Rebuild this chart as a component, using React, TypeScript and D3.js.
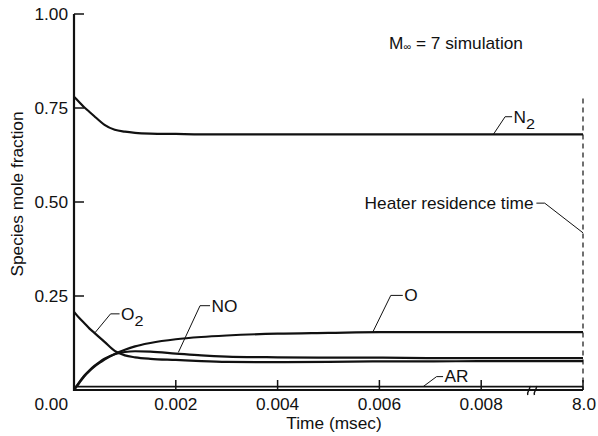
import * as d3 from "d3";
import React from "react";

// time in msec (last point stands for the heater residence time, 8.0 msec)
const times = [0, 0.0001, 0.0002, 0.0003, 0.0004, 0.0005, 0.0006, 0.0008, 0.001, 0.0012, 0.0015,
    0.002, 0.0025, 0.003, 0.004, 0.005, 0.006, 0.007, 0.008, 0.009, 0.01];

const n2 = [0.78, 0.766, 0.752, 0.74, 0.728, 0.716, 0.705, 0.692, 0.687, 0.684, 0.682,
    0.681, 0.68, 0.68, 0.68, 0.68, 0.68, 0.68, 0.68, 0.68, 0.68];
const o2 = [0.208, 0.192, 0.178, 0.164, 0.152, 0.14, 0.128, 0.104, 0.092, 0.087, 0.083,
    0.08, 0.077, 0.075, 0.074, 0.075, 0.076, 0.076, 0.077, 0.077, 0.077];
const no = [0, 0.02, 0.038, 0.052, 0.064, 0.074, 0.083, 0.095, 0.101, 0.103, 0.102,
    0.097, 0.092, 0.089, 0.087, 0.086, 0.086, 0.085, 0.085, 0.085, 0.085];
const o = [0, 0.018, 0.036, 0.05, 0.062, 0.072, 0.081, 0.096, 0.107, 0.116, 0.125,
    0.135, 0.141, 0.145, 0.15, 0.152, 0.154, 0.154, 0.154, 0.154, 0.154];
const ar = [0.009, 0.009, 0.009, 0.009, 0.009, 0.009, 0.009, 0.009, 0.009, 0.009, 0.009,
    0.009, 0.009, 0.009, 0.009, 0.009, 0.009, 0.009, 0.009, 0.009, 0.009];

const yTicks = [0.25, 0.5, 0.75, 1.0];
const yTickLabels = ["0.25", "0.50", "0.75", "1.00"];
const xTicks = [0.002, 0.004, 0.006, 0.008, 0.01];
const xTickLabels = ["0.002", "0.004", "0.006", "0.008", "8.0"];

const series = [
    { name: "N2", values: n2 },
    { name: "O2", values: o2 },
    { name: "NO", values: no },
    { name: "O", values: o },
    { name: "AR", values: ar },
];

// leader labels: anchor on the curve (t, v), elbow offset, short horizontal run
const labels = [
    { text: "N", sub: "2", t: 0.00824, v: 0.68, dx: 11.7, dy: -17.6, h: 7 },
    { text: "O", sub: "2", t: 0.00041, v: 0.152, dx: 15.7, dy: -19, h: 9 },
    { text: "NO", sub: "", t: 0.00205, v: 0.1, dx: 21.7, dy: -46.7, h: 10 },
    { text: "O", sub: "", t: 0.00587, v: 0.154, dx: 18, dy: -36.7, h: 12 },
    { text: "AR", sub: "", t: 0.00686, v: 0.009, dx: 13.4, dy: -10, h: 6.5 },
];

const width = 598;
const height = 436;
const SX = 1.08;
const font = "'Liberation Sans', Arial, sans-serif";

function Txt({ x, y, anchor = "start", size = 16, children }: any) {
    return (
        <text
            transform={`translate(${x},${y}) scale(${SX},1)`}
            textAnchor={anchor}
            fontSize={size}
            fontFamily={font}
            fill="#111"
        >
            {children}
        </text>
    );
}

export default function App() {
    const xScale = d3.scaleLinear().domain([0, 0.01]).range([74, 583]);
    const yScale = d3.scaleLinear().domain([0, 1]).range([390, 14]);

    const line = d3.line<number>()
        .x((d, i) => xScale(times[i]))
        .y((d) => yScale(d))
        .curve(d3.curveMonotoneX);

    const x0 = xScale(0);
    const y0 = yScale(0);
    const xEnd = xScale(0.01);
    const breakX = xScale(0.009);

    // heater residence time leader
    const hx = xScale(0.01);
    const hy = yScale(0.418);

    return (
        <svg width={width} height={height} style={{ position: "absolute", left: 0, top: 0 }}>
            <rect width={width} height={height} fill="white" />

            {series.map((s) => (
                <path key={s.name} d={line(s.values) || undefined} fill="none" stroke="#111"
                    strokeWidth={s.name === "AR" ? 1.7 : 2.2} />
            ))}

            {/* residence time dashed line */}
            <line x1={xEnd} x2={xEnd} y1={yScale(0.775)} y2={y0} stroke="#111" strokeWidth={1.2} strokeDasharray="5,4" />

            {/* axes */}
            <line x1={x0} x2={x0} y1={yScale(1)} y2={y0 + 1} stroke="#111" strokeWidth={2.2} />
            <line x1={x0 - 1} x2={xEnd} y1={y0} y2={y0} stroke="#111" strokeWidth={2.2} />
            {yTicks.map((v, i) => (
                <g key={v}>
                    <line x1={x0} x2={x0 + 10} y1={yScale(v)} y2={yScale(v)} stroke="#111" strokeWidth={1.5} />
                    <Txt x={68} y={yScale(v) + 5.8} anchor="end">{yTickLabels[i]}</Txt>
                </g>
            ))}
            <Txt x={68} y={410} anchor="end">0.00</Txt>
            {xTicks.map((t, i) => (
                <g key={t}>
                    <line x1={xScale(t)} x2={xScale(t)} y1={y0} y2={y0 - 10} stroke="#111" strokeWidth={1.5} />
                    <Txt x={i === xTicks.length - 1 ? 596 : xScale(t)} y={410}
                        anchor={i === xTicks.length - 1 ? "end" : "middle"}>{xTickLabels[i]}</Txt>
                </g>
            ))}

            {/* axis break marks */}
            {[-3.3, 3.3].map((d) => (
                <path key={d}
                    d={`M${breakX + d - 1},${y0 + 5} C${breakX + d - 2},${y0 + 1} ${breakX + d + 2},${y0 - 1} ${breakX + d + 1},${y0 - 4}`}
                    fill="none" stroke="#111" strokeWidth={1.4} />
            ))}

            {/* axis titles */}
            <Txt x={334} y={429} anchor="middle">Time (msec)</Txt>
            <text transform={`translate(23.3,194) rotate(-90) scale(${SX},1)`} textAnchor="middle"
                fontSize={16} fontFamily={font} fill="#111">Species mole fraction</text>

            {/* title */}
            <text transform={`translate(389,49.3) scale(${SX},1)`} fontSize={16} fontFamily={font} fill="#111">
                M<tspan fontSize={10} dy={1}>∞</tspan><tspan dy={-1}> = 7 simulation</tspan>
            </text>

            {/* leader labels */}
            {labels.map((l, i) => {
                const ax = xScale(l.t);
                const ay = yScale(l.v);
                const ex = ax + l.dx;
                const ey = ay + l.dy;
                return (
                    <g key={i}>
                        <polyline points={`${ax},${ay} ${ex},${ey} ${ex + l.h},${ey}`} fill="none" stroke="#111" strokeWidth={1} />
                        <text transform={`translate(${ex + l.h + 1.5},${ey + 5.8}) scale(${SX},1)`}
                            fontSize={16} fontFamily={font} fill="#111">
                            {l.text}
                            {l.sub ? <tspan fontSize={15} dy={6}>{l.sub}</tspan> : null}
                        </text>
                    </g>
                );
            })}

            <polyline points={`${hx},${hy} ${hx - 38.3},${hy - 29.7} ${hx - 46.6},${hy - 29.7}`} fill="none" stroke="#111" strokeWidth={1} />
            <Txt x={hx - 49.5} y={hy - 29.7 + 5.8} anchor="end">Heater residence time</Txt>
        </svg>
    );
}
